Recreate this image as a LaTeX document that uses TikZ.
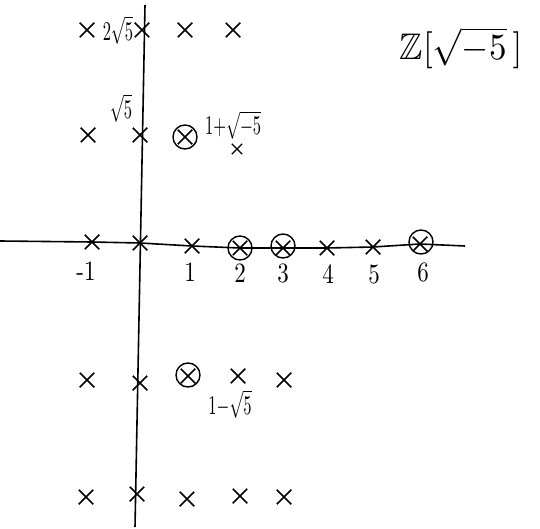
\documentclass[tikz,border=0pt]{standalone}
\usepackage{graphicx}
\usepackage{amssymb}
\usetikzlibrary{shapes.misc}
\tikzset{
  pt/.style={cross out, draw, minimum size=13pt, inner sep=0pt, line width=1.5pt},
  smallpt/.style={cross out, draw, minimum size=9pt, inner sep=0pt, line width=1.3pt},
  ring/.style={circle, draw, minimum size=24pt, inner sep=0pt, line width=1.4pt},
  axis/.style={line width=1.6pt},
  lab/.style={inner sep=0pt},
  mlab/.style={inner sep=0pt},
}
\newcommand{\ticklab}[1]{\scalebox{2.3}[2.8]{#1}}
\newcommand{\ptlab}[1]{\scalebox{1.65}[2.7]{#1}}
\begin{document}
\begin{tikzpicture}[x=1pt,y=-1pt]
\useasboundingbox (0,0) rectangle (540,529);
% axes ends
\coordinate (vT) at (145,5);
\coordinate (vB) at (135,527);
\coordinate (hL) at (0,241);
\coordinate (hR) at (465,246);
% row 2sqrt5
\node[pt] (r0a) at (87,30) {};
\node[pt] (r0b) at (142,30) {};
\node[pt] (r0c) at (185,30) {};
\node[pt] (r0d) at (233,30) {};
\node[mlab] (l0) at (118,30) {\ptlab{$2\sqrt{5}$}};
% row sqrt5
\node[pt] (r1a) at (88,135) {};
\node[pt] (r1b) at (140,135) {};
\node[pt] (r1c) at (185,137) {};
\node[ring] (c1) at (185,137) {};
\node[mlab] (l1) at (121,108) {\ptlab{$\sqrt{5}$}};
\node[mlab, anchor=west] (l2) at (205,125) {\ptlab{$1{+}\sqrt{-5}$}};
\node[smallpt] (r1d) at (237,149) {};
% real axis
\node[pt] (n1) at (92,242) {};
\node[pt] (z0) at (140,243) {};
\node[pt] (p1) at (192,246) {};
\node[pt] (p2) at (240,248) {};
\node[ring] (c2) at (240,248) {};
\node[pt] (p3) at (283,248) {};
\node[ring] (c3) at (283,246) {};
\node[pt] (p4) at (327,248) {};
\node[pt] (p5) at (373,247) {};
\node[pt] (p6) at (420,244) {};
\node[ring] (c6) at (421,242) {};
\node[lab] (tm1) at (86,271) {\ticklab{-1}};
\node[lab] (t1) at (190,272) {\ticklab{1}};
\node[lab] (t2) at (240,273) {\ticklab{2}};
\node[lab] (t3) at (283,273) {\ticklab{3}};
\node[lab] (t4) at (328,274) {\ticklab{4}};
\node[lab] (t5) at (374,274) {\ticklab{5}};
\node[lab] (t6) at (423,272) {\ticklab{6}};
% row 1 - sqrt5
\node[pt] (r3a) at (87,380) {};
\node[pt] (r3b) at (140,383) {};
\node[pt] (r3c) at (188,376) {};
\node[ring] (c4) at (188,375) {};
\node[pt] (r3d) at (238,376) {};
\node[pt] (r3e) at (284,380) {};
\node[mlab] (l3) at (230,404) {\ptlab{$1{-}\sqrt{5}$}};
% bottom row
\node[pt] (r4a) at (86,497) {};
\node[pt] (r4b) at (137,494) {};
\node[pt] (r4c) at (187,499) {};
\node[pt] (r4d) at (240,496) {};
\node[pt] (r4e) at (284,497) {};
% axes
\draw[axis] (vT) -- (vB);
\draw[axis] (hL) -- (n1.center) -- (z0.center) -- (p1.center) -- (p2.center) -- (p3.center) -- (p4.center) -- (p5.center) -- (p6.center) -- (hR);
% title
\node[inner sep=0pt] (title) at (461,48) {\scalebox{3.5}[3.7]{$\mathbb{Z}[\sqrt{-5}\,]$}};
\end{tikzpicture}
\end{document}
